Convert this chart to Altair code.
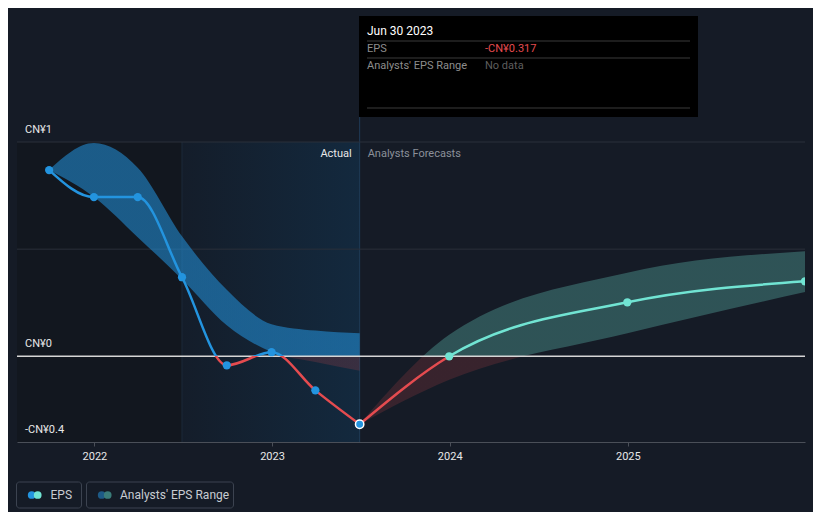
import altair as alt
import pandas as pd

# ---------------- data ----------------
past_dates = ["2021-09-30", "2021-12-31", "2022-03-31", "2022-06-30",
              "2022-09-30", "2022-12-31", "2023-03-31", "2023-06-30"]
past_eps = [0.869, 0.743, 0.743, 0.369, -0.042, 0.019, -0.159, -0.317]
past_low = [0.869, 0.743, 0.556, 0.36, 0.145, 0.02, -0.027, -0.067]
past_high = [0.869, 0.995, 0.88, 0.56, 0.31, 0.15, 0.12, 0.107]

fc_dates = ["2023-06-30", "2023-12-31", "2024-12-31", "2025-12-31"]
fc_eps = [-0.317, 0.0, 0.252, 0.35]
fc_low = [-0.317, -0.11, 0.107, 0.30]
fc_high = [-0.317, 0.10, 0.39, 0.49]

year_ticks = [2022, 2023, 2024, 2025]
y_label_vals = [1.0, 0.0, -0.4]
y_label_text = ["CN¥1", "CN¥0", "-CN¥0.4"]
grid_vals = [1.0, 0.5]

# ---------------- style ----------------
FONT = "Roboto"
BG = "#151b26"
BLUE = "#2394df"
RED = "#e54b4f"
TEAL = "#71e4d3"
W, H = 788, 300


def utc(y, m, d):
    return alt.DateTime(year=y, month=m, date=d, utc=True)


xscale = alt.Scale(type="utc", domain=[utc(2021, 7, 26), utc(2025, 12, 31)], nice=False)
yscale = alt.Scale(domain=[-0.4, 1.0], nice=False, zero=False)

xaxis = alt.Axis(values=[utc(y, 1, 1) for y in year_ticks],
                 labelExpr="utcFormat(datum.value, '%Y')",
                 domainColor="#4a4f58", domainWidth=1, tickColor="#4a4f58", tickSize=4,
                 labelColor="#e8e8e8", labelFont=FONT, labelFontSize=11, labelPadding=4,
                 grid=False, title=None)


def X(field):
    return alt.X(field, type="temporal", scale=xscale, axis=xaxis)


def Y(field):
    return alt.Y(field, type="quantitative", scale=yscale, axis=None)


def split_grad(top, bottom, f):
    stops = [alt.GradientStop(color=top, offset=0), alt.GradientStop(color=top, offset=f),
             alt.GradientStop(color=bottom, offset=f), alt.GradientStop(color=bottom, offset=1)]
    return alt.Gradient(gradient="linear", x1=0, x2=0, y1=0, y2=1, stops=stops)


def zero_frac(hi, lo):
    mx, mn = max(hi), min(lo)
    return max(0.0, min(1.0, mx / (mx - mn)))


past = pd.DataFrame({"date": past_dates, "eps": past_eps, "lo": past_low, "hi": past_high})
fc = pd.DataFrame({"date": fc_dates, "eps": fc_eps, "lo": fc_low, "hi": fc_high})
one = pd.DataFrame({"k": [0]})
regions = pd.DataFrame({"start": ["2021-07-26", "2022-06-30"], "end": ["2022-06-30", "2023-06-30"]})
ylabels = pd.DataFrame({"v": y_label_vals, "t": y_label_text})
grid = pd.DataFrame({"v": grid_vals})
zero = pd.DataFrame({"v": [0.0]})
now = pd.DataFrame({"date": ["2023-06-30"], "eps": [-0.317]})

layers = []

# background regions
layers.append(alt.Chart(regions.iloc[[0]]).mark_rect(fill="#12171f").encode(
    x=X("start"), x2="end", y=alt.value(0), y2=alt.value(H)))
layers.append(alt.Chart(regions.iloc[[1]]).mark_rect(
    fill=alt.Gradient(gradient="linear", x1=0, x2=1, y1=0, y2=0,
                      stops=[alt.GradientStop(color="#141d2a", offset=0),
                             alt.GradientStop(color="#13293e", offset=1)])).encode(
    x=X("start"), x2="end", y=alt.value(0), y2=alt.value(H)))
layers.append(alt.Chart(regions.iloc[[1]]).mark_rule(color="#1c2b3b", strokeWidth=1).encode(
    x=X("start"), y=alt.value(0), y2=alt.value(H)))
layers.append(alt.Chart(regions.iloc[[1]]).mark_rule(color="#1f3b57", strokeWidth=1).encode(
    x=X("end"), y=alt.value(-25), y2=alt.value(H)))

# grid
layers.append(alt.Chart(grid).mark_rule(color="#2a303a", strokeWidth=1).encode(
    y=Y("v"), x=alt.value(0), x2=alt.value(W)))

# bands
layers.append(alt.Chart(past).mark_area(
    interpolate="monotone",
    fill=split_grad("rgba(35,148,223,0.55)", "rgba(229,75,79,0.18)", zero_frac(past_high, past_low))
).encode(x=X("date"), y=Y("hi"), y2="lo"))
layers.append(alt.Chart(fc).mark_area(
    interpolate="monotone",
    fill=split_grad("rgba(113,228,211,0.28)", "rgba(229,75,79,0.17)", zero_frac(fc_high, fc_low))
).encode(x=X("date"), y=Y("hi"), y2="lo"))

# zero line
layers.append(alt.Chart(zero).mark_rule(color="#d6d6d6", strokeWidth=1.5).encode(
    y=Y("v"), x=alt.value(0), x2=alt.value(W)))

# lines
layers.append(alt.Chart(past).mark_line(
    interpolate="monotone", strokeWidth=2.5,
    stroke=split_grad(BLUE, RED, zero_frac(past_eps, past_eps))
).encode(x=X("date"), y=Y("eps")))
layers.append(alt.Chart(fc).mark_line(
    interpolate="monotone", strokeWidth=2.5, clip=True,
    stroke=split_grad(TEAL, RED, zero_frac(fc_eps, fc_eps))
).encode(x=X("date"), y=Y("eps")))

# points
layers.append(alt.Chart(past.iloc[:-1]).mark_circle(color=BLUE, size=68, opacity=1).encode(
    x=X("date"), y=Y("eps")))
layers.append(alt.Chart(fc.iloc[1:]).mark_circle(color=TEAL, size=68, opacity=1, clip=True).encode(
    x=X("date"), y=Y("eps")))
layers.append(alt.Chart(now).mark_point(filled=True, fill=BLUE, stroke="white", strokeWidth=1.5,
                                       size=70, opacity=1, shape="circle").encode(
    x=X("date"), y=Y("eps")))

# y labels
layers.append(alt.Chart(ylabels).mark_text(align="left", baseline="middle", dy=-12, color="#e8e8e8",
                                           font=FONT, fontSize=11).encode(
    x=alt.value(8), y=Y("v"), text="t:N"))

# Actual / Forecast labels
layers.append(alt.Chart(now).mark_text(text="Actual", align="right", baseline="middle", dx=-8,
                                       color="#e8e8e8", font=FONT, fontSize=11).encode(
    x=X("date"), y=alt.value(12)))
layers.append(alt.Chart(now).mark_text(text="Analysts Forecasts", align="left", baseline="middle", dx=8,
                                       color="#8b9099", font=FONT, fontSize=11).encode(
    x=X("date"), y=alt.value(12)))


def txt(s, px, py, color, size=11, weight="normal"):
    return alt.Chart(one).mark_text(text=s, align="left", baseline="middle", color=color,
                                    font=FONT, fontSize=size, fontWeight=weight).encode(
        x=alt.value(px), y=alt.value(py))


def hline(x0, x1, py, color):
    return alt.Chart(one).mark_rule(color=color, strokeWidth=1).encode(
        x=alt.value(x0), x2=alt.value(x1), y=alt.value(py))


# tooltip box
layers.append(alt.Chart(one).mark_rect(fill="#000000").encode(
    x=alt.value(342), x2=alt.value(681), y=alt.value(-126), y2=alt.value(-25)))
layers.append(txt("Jun 30 2023", 350, -111, "#ffffff", 12))
layers.append(hline(350, 673, -101, "#3a3a3a"))
layers.append(txt("EPS", 350, -93, "#8d8d8d", 11))
layers.append(txt("-CN¥0.317", 468, -93, RED, 11))
layers.append(hline(350, 673, -84, "#3a3a3a"))
layers.append(txt("Analysts' EPS Range", 350, -76, "#8d8d8d", 11))
layers.append(txt("No data", 468, -76, "#5e5e5e", 11))
layers.append(hline(350, 673, -34, "#3a3a3a"))

# legend
for x0, x1 in [(-0.5, 64.5), (69.5, 216.5)]:
    layers.append(alt.Chart(one).mark_rect(fill=BG, stroke="#3c4350", strokeWidth=1, cornerRadius=3).encode(
        x=alt.value(x0), x2=alt.value(x1), y=alt.value(340), y2=alt.value(366)))
for px, c in [(14.7, BLUE), (20.7, TEAL), (84.7, "#1d5a86"), (90.7, "#3a7c79")]:
    layers.append(alt.Chart(one).mark_circle(color=c, size=60, opacity=1).encode(
        x=alt.value(px), y=alt.value(353)))
layers.append(txt("EPS", 33.5, 353, "#c8ccd2", 12))
layers.append(txt("Analysts' EPS Range", 103, 353, "#c8ccd2", 12))

chart = alt.layer(*layers).properties(
    width=W, height=H,
    padding={"left": 9, "top": 134, "right": 8, "bottom": 70},
    autosize=alt.AutoSizeParams(type="none"),
    background=BG,
).configure_view(stroke=None)

chart.save("out.html", embed_options={"renderer": "svg", "actions": False})
